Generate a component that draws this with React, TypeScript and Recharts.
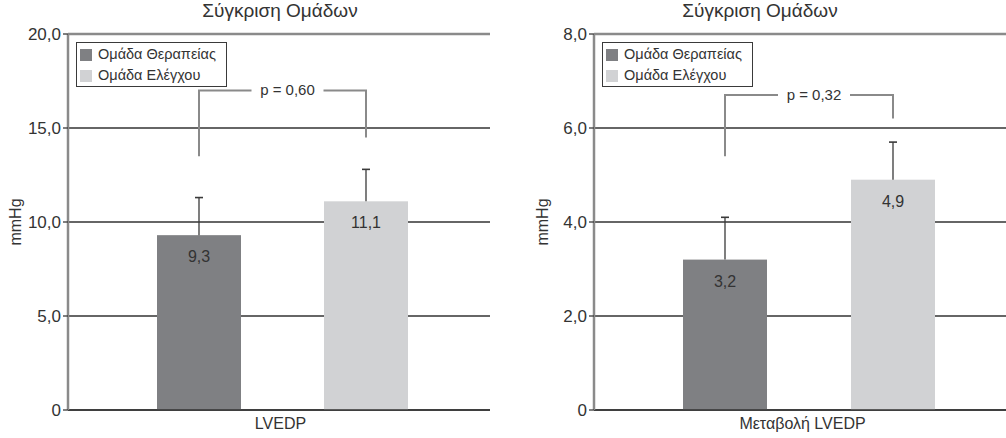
import React from 'react';
import { BarChart, Bar, XAxis, YAxis, CartesianGrid, Legend, ReferenceLine } from 'recharts';

// Shared series definitions
const groupNames = ['Ομάδα Θεραπείας', 'Ομάδα Ελέγχου'];
const groupColors = ['#7f8083', '#d1d2d4'];
const chartTitle = 'Σύγκριση Ομάδων';
const unitLabel = 'mmHg';

// Panel 1: absolute LVEDP
const lvedpCategory = 'LVEDP';
const lvedpMeans = [9.3, 11.1];
const lvedpErrors = [2.0, 1.7];
const lvedpTicks = [0, 5, 10, 15, 20];
const lvedpBracketLegs = [13.5, 14.5];
const lvedpBracketTop = 17.0;
const lvedpPLabel = 'p = 0,60';

// Panel 2: change in LVEDP
const changeCategory = 'Μεταβολή LVEDP';
const changeMeans = [3.2, 4.9];
const changeErrors = [0.9, 0.8];
const changeTicks = [0, 2, 4, 6, 8];
const changeBracketLegs = [5.4, 6.2];
const changeBracketTop = 6.7;
const changePLabel = 'p = 0,32';

const FONT = '"Liberation Sans", Arial, Helvetica, sans-serif';
const TEXT = '#333333';
const FRAME = '#8a8a8a';
const GRID = '#333333';

const fmt = (v: number) => (v === 0 ? '0' : v.toFixed(1).replace('.', ','));

type PanelSpec = {
  category: string;
  means: number[];
  errors: number[];
  ticks: number[];
  legs: number[];
  bracketTop: number;
  pLabel: string;
  // layout
  left: number;
  width: number;
  yAxisWidth: number;
  marginRight: number;
  padLeft: number;
  barGap: number;
  titleX: number;
  tickDx: number;
  unitX: number;
};

const panels: PanelSpec[] = [
  {
    category: lvedpCategory,
    means: lvedpMeans,
    errors: lvedpErrors,
    ticks: lvedpTicks,
    legs: lvedpBracketLegs,
    bracketTop: lvedpBracketTop,
    pLabel: lvedpPLabel,
    left: 0,
    width: 500,
    yAxisWidth: 68,
    marginRight: 10,
    padLeft: 7,
    barGap: 83,
    titleX: 280,
    tickDx: -2,
    unitX: 15,
  },
  {
    category: changeCategory,
    means: changeMeans,
    errors: changeErrors,
    ticks: changeTicks,
    legs: changeBracketLegs,
    bracketTop: changeBracketTop,
    pLabel: changePLabel,
    left: 500,
    width: 516,
    yAxisWidth: 94,
    marginRight: 0,
    padLeft: 7,
    barGap: 84,
    titleX: 260,
    tickDx: -6,
    unitX: 42,
  },
];

const BAR_SIZE = 84;

// Bar with its value, upward error bar and half of the significance bracket
const makeShape = (spec: PanelSpec, idx: number) => (props: any) => {
  const { x, y, width, height, fill } = props;
  const value = spec.means[idx];
  const k = height / value; // pixels per unit from the bar itself
  const base = y + height;
  const toY = (v: number) => base - v * k;
  const cx = x + width / 2;
  const errY = toY(value + spec.errors[idx]);
  const legY = toY(spec.legs[idx]);
  const topY = toY(spec.bracketTop);
  const mid = idx === 0 ? cx + (width + spec.barGap) / 2 : cx - (width + spec.barGap) / 2;
  const textX = mid + 5;
  const halfGap = 36;
  const hx = idx === 0 ? textX - halfGap : textX + halfGap;
  return (
    <g>
      <rect x={x} y={y} width={width} height={height} fill={fill} />
      <line x1={cx} y1={y} x2={cx} y2={errY} stroke="#3a3a3a" strokeWidth={1.3} />
      <line x1={cx - 4} y1={errY} x2={cx + 4} y2={errY} stroke="#3a3a3a" strokeWidth={1.6} />
      <polyline
        points={`${cx},${legY} ${cx},${topY} ${hx},${topY}`}
        fill="none"
        stroke={FRAME}
        strokeWidth={2}
      />
      {idx === 0 && (
        <text x={textX} y={topY + 5} textAnchor="middle" fontSize={15} fill={TEXT} fontFamily={FONT}>
          {spec.pLabel}
        </text>
      )}
      <text x={cx} y={y + 27} textAnchor="middle" fontSize={16} fill={TEXT} fontFamily={FONT}>
        {fmt(value)}
      </text>
    </g>
  );
};

const LegendBox = (props: any) => {
  const items = [...(props.payload || [])].sort(
    (a: any, b: any) => groupNames.indexOf(a.value) - groupNames.indexOf(b.value)
  );
  return (
    <div
      style={{
        border: '1.5px solid #3a3a3a',
        width: 146,
        height: 42,
        boxSizing: 'content-box',
        padding: '1px 0 0 3px',
        background: '#fff',
        fontFamily: FONT,
      }}
    >
      {items.map((it: any) => (
        <div key={it.value} style={{ display: 'flex', alignItems: 'center', height: 21 }}>
          <span style={{ width: 12, height: 12, background: it.color, display: 'inline-block', marginRight: 6 }} />
          <span style={{ fontSize: 14.5, color: TEXT, lineHeight: '21px' }}>{it.value}</span>
        </div>
      ))}
    </div>
  );
};

const Panel = ({ spec }: { spec: PanelSpec }) => {
  const row: Record<string, any> = { cat: spec.category };
  groupNames.forEach((_, i) => {
    row[`g${i}`] = spec.means[i];
  });
  const data = [row];
  const yMax = spec.ticks[spec.ticks.length - 1];
  return (
    <div style={{ position: 'absolute', left: spec.left, top: 0, width: spec.width, height: 438 }}>
      <div
        style={{
          position: 'absolute',
          left: spec.titleX - 120,
          width: 240,
          top: 0,
          textAlign: 'center',
          fontSize: 19,
          color: TEXT,
          fontFamily: FONT,
          zIndex: 2,
        }}
      >
        {chartTitle}
      </div>
      <BarChart
        width={spec.width}
        height={438}
        data={data}
        margin={{ top: 34, right: spec.marginRight, bottom: 0, left: 0 }}
        barSize={BAR_SIZE}
        barGap={spec.barGap}
      >
        <CartesianGrid vertical={false} stroke={GRID} strokeWidth={1.6} />
        <XAxis
          dataKey="cat"
          height={28}
          padding={{ left: spec.padLeft, right: 0 }}
          tickLine={false}
          axisLine={{ stroke: '#333333', strokeWidth: 1.6 }}
          tick={(p: any) => (
            <text
              x={p.x + spec.tickDx}
              y={p.y}
              dy="0.71em"
              textAnchor="middle"
              fontSize={16}
              fill={TEXT}
              fontFamily={FONT}
            >
              {p.payload.value}
            </text>
          )}
        />
        <YAxis
          width={spec.yAxisWidth}
          domain={[0, yMax]}
          ticks={spec.ticks}
          interval={0}
          tickFormatter={fmt}
          tickSize={5}
          tickLine={{ stroke: '#3a3a3a', strokeWidth: 1.3 }}
          axisLine={{ stroke: FRAME, strokeWidth: 2.5 }}
          tick={{ fontSize: 17, fill: TEXT, fontFamily: FONT }}
          label={(p: any) => {
            const vb = p.viewBox || {};
            const cy = vb.y + vb.height / 2;
            return (
              <text
                x={vb.x + spec.unitX}
                y={cy}
                transform={`rotate(-90 ${vb.x + spec.unitX} ${cy})`}
                textAnchor="middle"
                dominantBaseline="central"
                fontSize={16}
                fill={TEXT}
                fontFamily={FONT}
              >
                {unitLabel}
              </text>
            );
          }}
        />
        <YAxis
          yAxisId="frame"
          orientation="right"
          width={0}
          domain={[0, 1]}
          tick={false}
          tickLine={false}
          axisLine={{ stroke: FRAME, strokeWidth: 2.5 }}
        />
        <ReferenceLine y={yMax} stroke={FRAME} strokeWidth={2.5} />
        <Legend
          layout="horizontal"
          verticalAlign="middle"
          align="center"
          content={<LegendBox />}
          wrapperStyle={{ left: spec.yAxisWidth + 8, top: 42, width: 'auto', height: 'auto' }}
        />
        {groupNames.map((name, i) => (
          <Bar
            key={name}
            dataKey={`g${i}`}
            name={name}
            fill={groupColors[i]}
            isAnimationActive={false}
            shape={makeShape(spec, i)}
          />
        ))}
      </BarChart>
    </div>
  );
};

export default function App() {
  return (
    <div
      style={{
        position: 'absolute',
        left: 0,
        top: 0,
        width: 1006,
        height: 438,
        overflow: 'hidden',
        background: '#ffffff',
      }}
    >
      {panels.map((p) => (
        <Panel key={p.category} spec={p} />
      ))}
    </div>
  );
}
